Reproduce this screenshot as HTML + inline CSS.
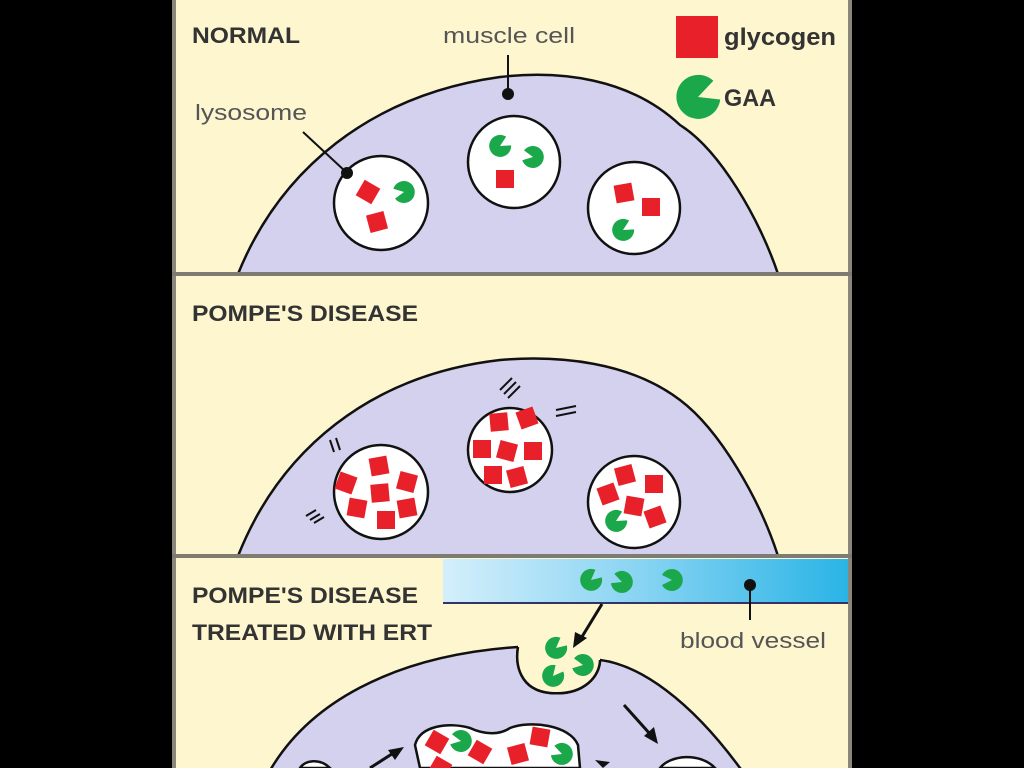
<!DOCTYPE html>
<html><head><meta charset="utf-8"><style>
html,body{margin:0;padding:0;background:#000;}
svg{display:block}
</style></head><body>
<svg width="1024" height="768" viewBox="0 0 1024 768" xmlns="http://www.w3.org/2000/svg">
<defs>
<linearGradient id="bv" x1="0" x2="1" y1="0" y2="0">
<stop offset="0" stop-color="#d4effb"/><stop offset="0.5" stop-color="#86d3f2"/><stop offset="1" stop-color="#2ab4e6"/>
</linearGradient>
<g id="gaa"><path d="M0,0 L10,-5 A11,11 0 1 0 10,5 Z" fill="#1aa84a"/></g>
<g id="sq"><rect x="-9" y="-9" width="18" height="18" fill="#e8202a"/></g>
</defs>
<rect x="0" y="0" width="1024" height="768" fill="#000"/>
<rect x="172" y="0" width="680" height="768" fill="#fdf6cf"/>
<rect x="172" y="0" width="4" height="768" fill="#8a877a"/>
<rect x="848" y="0" width="4" height="768" fill="#8a877a"/>

<!-- Panel 1 -->
<path d="M238,274 C280,170 370,95 500,77 C560,70 630,78 680,125 C720,150 760,220 778,274 Z" fill="#d3d1ed" stroke="#111" stroke-width="2.5"/>
<rect x="172" y="272" width="680" height="4" fill="#7d7b72"/>
<text x="192" y="43" font-family="Liberation Sans, sans-serif" font-weight="bold" font-size="22" fill="#333" textLength="108" lengthAdjust="spacingAndGlyphs">NORMAL</text>
<text x="443" y="43" font-family="Liberation Sans, sans-serif" font-size="22" fill="#555" textLength="132" lengthAdjust="spacingAndGlyphs">muscle cell</text>
<text x="195" y="120" font-family="Liberation Sans, sans-serif" font-size="22" fill="#555" textLength="112" lengthAdjust="spacingAndGlyphs">lysosome</text>
<line x1="508" y1="55" x2="508" y2="94" stroke="#111" stroke-width="2"/><circle cx="508" cy="94" r="6" fill="#111"/>
<line x1="303" y1="132" x2="346" y2="172" stroke="#111" stroke-width="2"/>
<rect x="676" y="16" width="42" height="42" fill="#e8202a"/>
<text x="724" y="45" font-family="Liberation Sans, sans-serif" font-weight="bold" font-size="24" fill="#333" textLength="112" lengthAdjust="spacingAndGlyphs">glycogen</text>
<use href="#gaa" transform="translate(698,97) scale(2) rotate(-20)"/>
<text x="724" y="106" font-family="Liberation Sans, sans-serif" font-weight="bold" font-size="24" fill="#333" textLength="52" lengthAdjust="spacingAndGlyphs">GAA</text>

<circle cx="381" cy="203" r="47" fill="#fff" stroke="#111" stroke-width="2.5"/>
<circle cx="347" cy="173" r="6" fill="#111"/>
<use href="#sq" transform="translate(368,192) rotate(30)"/>
<use href="#sq" transform="translate(377,222) rotate(-15)"/>
<use href="#gaa" transform="translate(404,192) rotate(170)"/>
<circle cx="514" cy="162" r="46" fill="#fff" stroke="#111" stroke-width="2.5"/>
<use href="#gaa" transform="translate(500,146) rotate(-30)"/>
<use href="#gaa" transform="translate(533,157) rotate(190)"/>
<use href="#sq" transform="translate(505,179)"/>
<circle cx="634" cy="208" r="46" fill="#fff" stroke="#111" stroke-width="2.5"/>
<use href="#sq" transform="translate(624,193) rotate(-10)"/>
<use href="#sq" transform="translate(651,207)"/>
<use href="#gaa" transform="translate(623,230) rotate(-30)"/>

<!-- Panel 2 -->
<path d="M238,556 C280,450 370,375 500,360 C560,355 630,362 680,400 C720,430 760,500 778,556 Z" fill="#d3d1ed" stroke="#111" stroke-width="2.5"/>
<rect x="172" y="554" width="680" height="4" fill="#7d7b72"/>
<text x="192" y="321" font-family="Liberation Sans, sans-serif" font-weight="bold" font-size="22" fill="#333" textLength="226" lengthAdjust="spacingAndGlyphs">POMPE'S DISEASE</text>

<circle cx="381" cy="492" r="47" fill="#fff" stroke="#111" stroke-width="2.5"/>
<use href="#sq" transform="translate(346,483) rotate(20)"/>
<use href="#sq" transform="translate(379,466) rotate(-10)"/>
<use href="#sq" transform="translate(407,482) rotate(15)"/>
<use href="#sq" transform="translate(380,493) rotate(-5)"/>
<use href="#sq" transform="translate(357,508) rotate(10)"/>
<use href="#sq" transform="translate(407,508) rotate(-10)"/>
<use href="#sq" transform="translate(386,520)"/>
<path d="M330,440 l4,12 M336,438 l4,12 M306,516 l10,-6 M310,520 l10,-6 M314,523 l10,-6" stroke="#111" stroke-width="2"/>
<circle cx="510" cy="450" r="42" fill="#fff" stroke="#111" stroke-width="2.5"/>
<use href="#sq" transform="translate(499,422) rotate(-5)"/>
<use href="#sq" transform="translate(527,418) rotate(-20)"/>
<use href="#sq" transform="translate(482,449)"/>
<use href="#sq" transform="translate(507,451) rotate(15)"/>
<use href="#sq" transform="translate(533,451)"/>
<use href="#sq" transform="translate(493,475)"/>
<use href="#sq" transform="translate(517,477) rotate(-15)"/>
<path d="M500,390 l12,-12 M504,394 l12,-12 M508,398 l12,-12 M556,410 l20,-4 M556,416 l20,-4" stroke="#111" stroke-width="2"/>
<circle cx="634" cy="502" r="46" fill="#fff" stroke="#111" stroke-width="2.5"/>
<use href="#sq" transform="translate(608,494) rotate(-20)"/>
<use href="#sq" transform="translate(625,475) rotate(-15)"/>
<use href="#sq" transform="translate(654,484)"/>
<use href="#sq" transform="translate(634,506) rotate(10)"/>
<use href="#sq" transform="translate(655,517) rotate(-20)"/>
<use href="#gaa" transform="translate(616,521) rotate(-30)"/>

<!-- Panel 3 -->
<rect x="443" y="559" width="405" height="44" fill="url(#bv)"/>
<line x1="443" y1="603" x2="848" y2="603" stroke="#336" stroke-width="2"/>
<use href="#gaa" transform="translate(591,580) rotate(-40)"/>
<use href="#gaa" transform="translate(622,582) rotate(200)"/>
<use href="#gaa" transform="translate(672,580) rotate(180)"/>
<circle cx="750" cy="585" r="6" fill="#111"/>
<line x1="750" y1="585" x2="750" y2="620" stroke="#111" stroke-width="2"/>
<text x="680" y="648" font-family="Liberation Sans, sans-serif" font-size="22" fill="#555" textLength="146" lengthAdjust="spacingAndGlyphs">blood vessel</text>
<text x="192" y="603" font-family="Liberation Sans, sans-serif" font-weight="bold" font-size="22" fill="#333" textLength="226" lengthAdjust="spacingAndGlyphs">POMPE'S DISEASE</text>
<text x="192" y="640" font-family="Liberation Sans, sans-serif" font-weight="bold" font-size="22" fill="#333" textLength="240" lengthAdjust="spacingAndGlyphs">TREATED WITH ERT</text>

<path d="M260,790 C300,700 400,655 518,647 C515,665 520,690 550,693 C585,696 600,675 600,660 C640,665 690,700 740,768 L760,790 Z" fill="#d3d1ed" stroke="#111" stroke-width="2.5"/>
<path d="M518,647 C515,665 520,690 550,693 C585,696 600,675 600,660 L600,650 L518,640 Z" fill="#fdf6cf"/>
<path d="M518,647 C515,665 520,690 550,693 C585,696 600,675 600,660" fill="none" stroke="#111" stroke-width="2.5"/>
<use href="#gaa" transform="translate(556,648) rotate(-40)"/>
<use href="#gaa" transform="translate(583,665) rotate(190)"/>
<use href="#gaa" transform="translate(553,676) rotate(-50)"/>
<line x1="602" y1="604" x2="580" y2="640" stroke="#111" stroke-width="3"/>
<path d="M573,648 L575,632 L587,638 Z" fill="#111"/>
<line x1="624" y1="705" x2="650" y2="734" stroke="#111" stroke-width="3"/>
<path d="M658,744 L644,736 L654,727 Z" fill="#111"/>
<path d="M420,768 L415,745 C420,725 450,722 470,728 C485,735 500,735 510,728 C530,720 570,725 578,745 L580,768 Z" fill="#fff" stroke="#111" stroke-width="2.5"/>
<use href="#sq" transform="translate(437,742) rotate(30)"/>
<use href="#gaa" transform="translate(461,741) rotate(190)"/>
<use href="#sq" transform="translate(480,752) rotate(30)"/>
<use href="#sq" transform="translate(518,754) rotate(-15)"/>
<use href="#sq" transform="translate(540,737) rotate(10)"/>
<use href="#gaa" transform="translate(562,754) rotate(200)"/>
<use href="#sq" transform="translate(440,768) rotate(30)"/>
<path d="M370,768 L395,752" stroke="#111" stroke-width="3"/>
<path d="M404,747 L388,750 L395,760 Z" fill="#111"/>
<path d="M660,768 C670,755 700,752 715,768 Z" fill="#fff" stroke="#111" stroke-width="2.5"/>
<path d="M300,768 C305,760 320,758 330,768 Z" fill="#fff" stroke="#111" stroke-width="2.5"/>
<path d="M595,760 L610,762 L603,768 Z" fill="#111"/>
</svg>
</body></html>
